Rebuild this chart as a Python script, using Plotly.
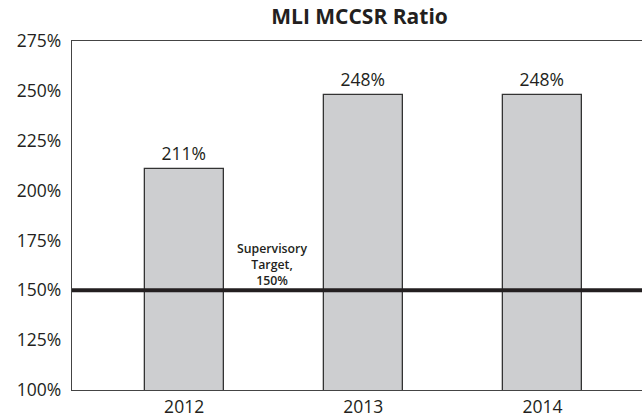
import plotly.graph_objects as go

years = ["2012", "2013", "2014"]
ratios = [211, 248, 248]
ratio_labels = ["211%", "248%", "248%"]
target = 150
target_label = "Supervisory<br>Target,<br>150%"
y_ticks = [100, 125, 150, 175, 200, 225, 250, 275]
y_tick_labels = ["100%", "125%", "150%", "175%", "200%", "225%", "250%", "275%"]

INK = "#231f20"
FONT = "Open Sans"

fig = go.Figure()
fig.add_trace(go.Bar(
    x=[0, 1, 2], y=ratios,
    base=0,
    width=0.441,
    marker=dict(color="#cdced0", line=dict(color="#333333", width=1.3)),
    text=ratio_labels, textposition="outside", cliponaxis=False,
    textfont=dict(family=FONT, size=17.5, color=INK),
    hoverinfo="skip", showlegend=False,
))

fig.add_shape(type="line", xref="paper", yref="y", x0=0, x1=1, y0=target, y1=target,
              line=dict(color=INK, width=4), layer="above")

fig.add_annotation(x=0.489, y=target, xref="x", yref="y", text=target_label,
                   showarrow=False, yanchor="bottom", yshift=-1,
                   font=dict(family=FONT, size=12.3, color=INK, weight=600),
                   align="center")

fig.update_layout(
    width=642, height=419,
    margin=dict(l=72, r=0, t=41, b=29),
    paper_bgcolor="white", plot_bgcolor="white",
    title=dict(text="<b>MLI MCCSR Ratio</b>", x=0.56, xanchor="center", y=0.961, yanchor="middle",
               font=dict(family=FONT, size=21, color=INK)),
    xaxis=dict(range=[-0.626, 2.556], tickvals=[0, 1, 2], ticktext=years,
               showgrid=False, zeroline=False, showline=True, linecolor="#444444", linewidth=1.3,
               mirror=True, ticks="", tickfont=dict(family=FONT, size=17.5, color=INK),
               ticklabelstandoff=1),
    yaxis=dict(range=[100, 275], tickvals=y_ticks, ticktext=y_tick_labels,
               showgrid=False, zeroline=False, showline=True, linecolor="#444444", linewidth=1.3,
               mirror=False, ticks="", tickfont=dict(family=FONT, size=17.5, color=INK),
               ticklabelstandoff=6),
    bargap=0,
)

fig.write_html("out.html", config={"displayModeBar": False},
               post_script="document.body.style.margin='0';")
